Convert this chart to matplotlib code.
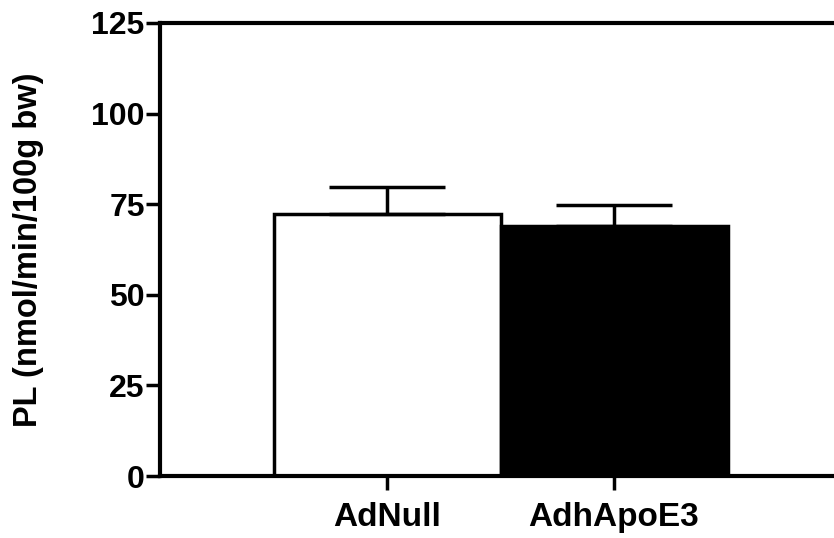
import matplotlib
matplotlib.use("Agg")
import matplotlib.pyplot as plt

categories = ["AdNull", "AdhApoE3"]
values = [72.2, 69.1]
errors = [7.5, 5.7]
colors = ["white", "black"]
yticks = [0, 25, 50, 75, 100, 125]

plt.rcParams['font.family'] = ['Liberation Sans', 'DejaVu Sans']
plt.rcParams['font.weight'] = 'bold'

fig = plt.figure(figsize=(8.34, 5.38), dpi=100)
ax = fig.add_axes([160/834, 1-476/538, 681/834, (476-23)/538])

x = [1, 2]
ax.bar(x, values, width=1.0, color=colors, edgecolor="black", linewidth=2.5, zorder=2)
ax.errorbar(x, values, yerr=[[0]*len(values), errors], fmt="none", ecolor="black",
            elinewidth=2.5, capsize=41.5, capthick=2.5, zorder=3)

ax.set_xlim(0, 3)
ax.set_ylim(0, 125)
ax.set_yticks(yticks)
ax.set_yticklabels([str(t) for t in yticks], fontsize=23, fontweight='bold')
ax.set_xticks(x)
ax.set_xticklabels(categories, fontsize=24, fontweight='bold')

for s in ["left", "bottom", "top"]:
    ax.spines[s].set_linewidth(3)
ax.spines["right"].set_visible(False)
ax.tick_params(axis="both", length=10, width=2.5, direction="out")
ax.tick_params(axis="y", pad=1)
ax.tick_params(axis="x", pad=9)

ax.set_ylabel("PL (nmol/min/100g bw)", fontsize=23.5, fontweight='bold')
ax.yaxis.set_label_coords((44-160)/681, 0.5)

fig.savefig("out.png", dpi=100)
